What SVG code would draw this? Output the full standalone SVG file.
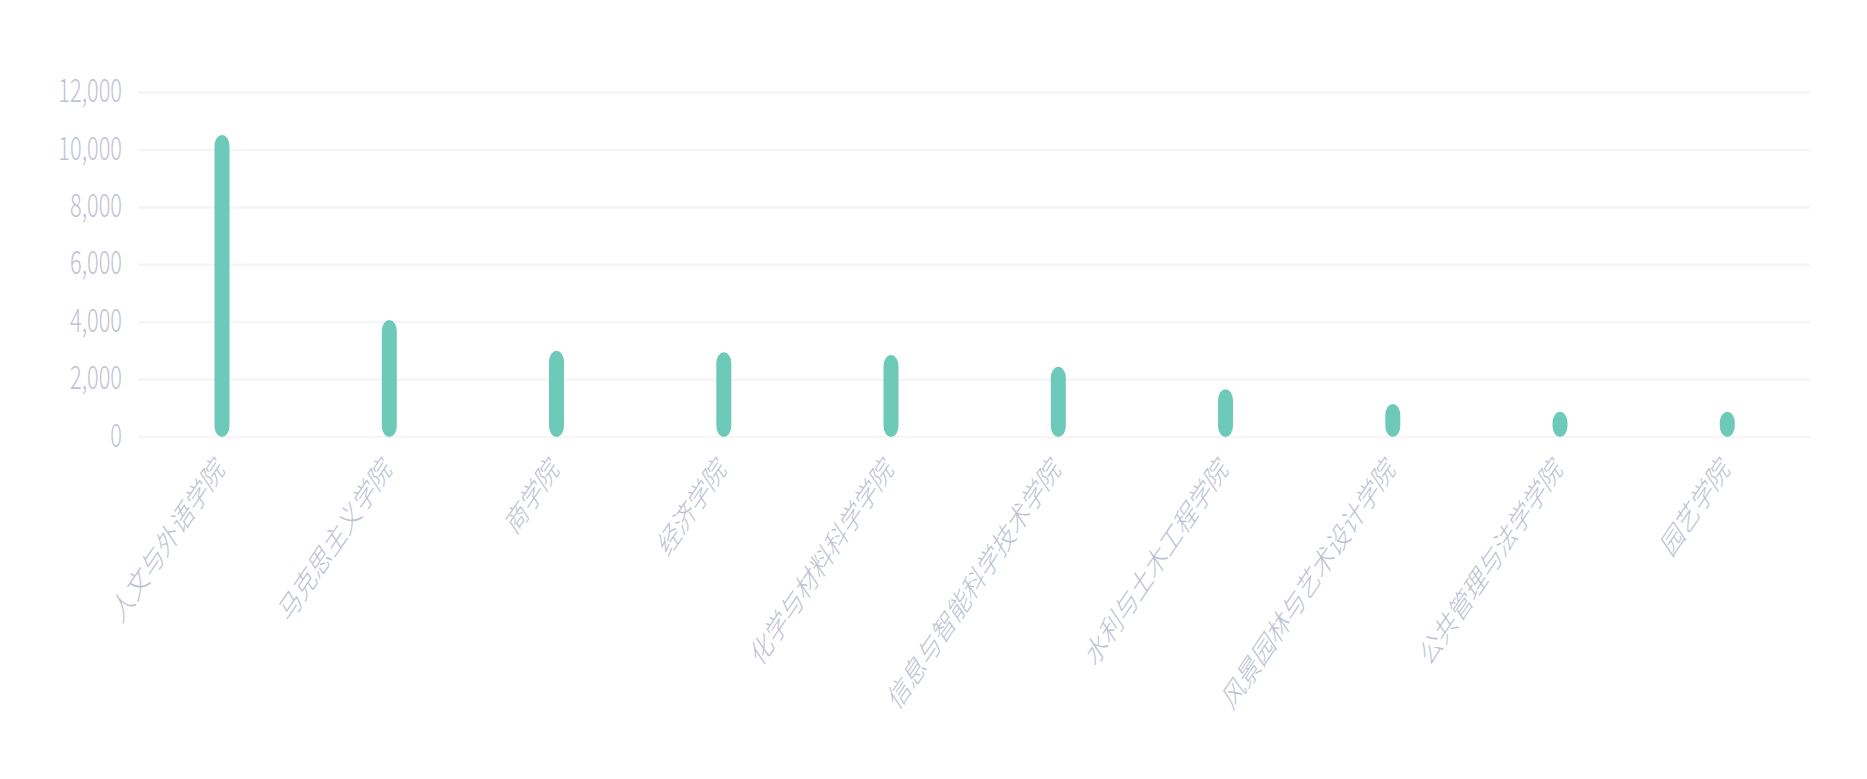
<svg xmlns="http://www.w3.org/2000/svg" width="1867" height="779" viewBox="0 0 1867 779">
<style>
.grid{stroke:#f5f5f8;stroke-width:2.5;fill:none}
.bar{fill:#6dcab8}
.yl{font-family:"Noto Sans CJK SC","Noto Sans",sans-serif;font-size:32px;font-weight:300;fill:#bfc2d2;text-anchor:end}
.xl{font-family:"Noto Sans CJK SC","Noto Sans",sans-serif;font-size:31px;font-weight:300;fill:#bcc0d2;text-anchor:end;dominant-baseline:central}
</style>
<rect width="1867" height="779" fill="#ffffff"/>
<g id="grid">
<line class="grid" x1="138" y1="92.6" x2="1810" y2="92.6"/>
<line class="grid" x1="138" y1="150" x2="1810" y2="150"/>
<line class="grid" x1="138" y1="207.4" x2="1810" y2="207.4"/>
<line class="grid" x1="138" y1="264.8" x2="1810" y2="264.8"/>
<line class="grid" x1="138" y1="322.2" x2="1810" y2="322.2"/>
<line class="grid" x1="138" y1="379.6" x2="1810" y2="379.6"/>
<line class="grid" x1="138" y1="437" x2="1810" y2="437"/>
</g>
<g id="y-axis">
<text class="yl" transform="translate(122,102) scale(0.68,1)">12,000</text>
<text class="yl" transform="translate(122,159.5) scale(0.68,1)">10,000</text>
<text class="yl" transform="translate(122,216.9) scale(0.68,1)">8,000</text>
<text class="yl" transform="translate(122,274.3) scale(0.68,1)">6,000</text>
<text class="yl" transform="translate(122,331.7) scale(0.68,1)">4,000</text>
<text class="yl" transform="translate(122,389.1) scale(0.68,1)">2,000</text>
<text class="yl" transform="translate(122,446.5) scale(0.68,1)">0</text>
</g>
<g id="bars">
<rect id="bar1" class="bar" x="214.5" y="135" width="15" height="302" rx="7.5" ry="11"/>
<rect id="bar2" class="bar" x="381.8" y="320" width="15" height="117" rx="7.5" ry="11"/>
<rect id="bar3" class="bar" x="549" y="350.7" width="15" height="86.3" rx="7.5" ry="11"/>
<rect id="bar4" class="bar" x="716.3" y="352.3" width="15" height="84.7" rx="7.5" ry="11"/>
<rect id="bar5" class="bar" x="883.5" y="355" width="15" height="82" rx="7.5" ry="11"/>
<rect id="bar6" class="bar" x="1050.8" y="366.7" width="15" height="70.3" rx="7.5" ry="11"/>
<rect id="bar7" class="bar" x="1218" y="389.3" width="15" height="47.7" rx="7.5" ry="11"/>
<rect id="bar8" class="bar" x="1385.3" y="404" width="15" height="33" rx="7.5" ry="11"/>
<rect id="bar9" class="bar" x="1552.5" y="411.7" width="15" height="25.3" rx="7.5" ry="11"/>
<rect id="bar10" class="bar" x="1719.8" y="411.7" width="15" height="25.3" rx="7.5" ry="11"/>
</g>
<g id="x-axis">
<text class="xl" transform="translate(219,461) scale(0.68,1) rotate(-45)">人文与外语学院</text>
<text class="xl" transform="translate(386.3,461) scale(0.68,1) rotate(-45)">马克思主义学院</text>
<text class="xl" transform="translate(553.5,461) scale(0.68,1) rotate(-45)">商学院</text>
<text class="xl" transform="translate(720.8,461) scale(0.68,1) rotate(-45)">经济学院</text>
<text class="xl" transform="translate(888,461) scale(0.68,1) rotate(-45)">化学与材料科学学院</text>
<text class="xl" transform="translate(1055.3,461) scale(0.68,1) rotate(-45)">信息与智能科学技术学院</text>
<text class="xl" transform="translate(1222.5,461) scale(0.68,1) rotate(-45)">水利与土木工程学院</text>
<text class="xl" transform="translate(1389.8,461) scale(0.68,1) rotate(-45)">风景园林与艺术设计学院</text>
<text class="xl" transform="translate(1557,461) scale(0.68,1) rotate(-45)">公共管理与法学学院</text>
<text class="xl" transform="translate(1724.3,461) scale(0.68,1) rotate(-45)">园艺学院</text>
</g>
</svg>
